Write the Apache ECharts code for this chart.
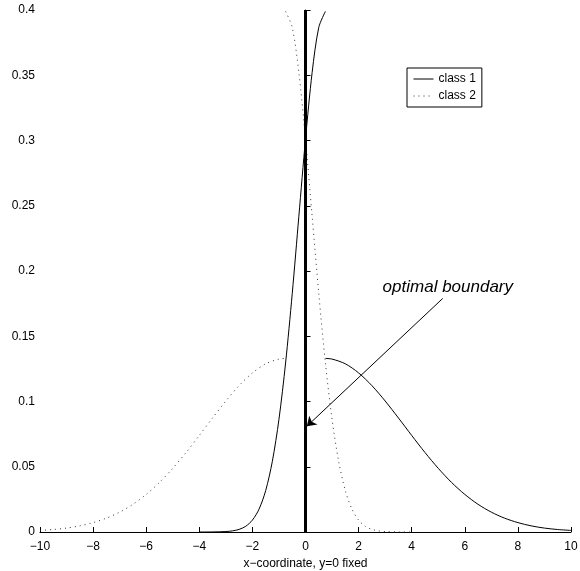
<!DOCTYPE html>
<html>
<head>
<meta charset="utf-8">
<script src="https://cdn.jsdelivr.net/npm/echarts@6/dist/echarts.min.js"></script>
<style>html,body{margin:0;padding:0;background:#fff;}#c{width:580px;height:571px;}</style>
</head>
<body>
<div id="c"></div>
<script>
// ---- data ----
const class1NarrowX = [-4, -3.5, -3, -2.75, -2.5, -2.25, -2, -1.75, -1.5, -1.25, -1, -0.75, -0.5, -0.25, 0, 0.25, 0.5, 0.75];
const class1NarrowY = [0.000005, 0.00005, 0.00035, 0.00087, 0.0020, 0.0044, 0.0091, 0.0175, 0.0317, 0.0540, 0.0863, 0.1295, 0.1826, 0.2420, 0.3011, 0.3521, 0.3867, 0.3989];
const class1WideX = [0.75, 1, 1.5, 2, 2.5, 3, 3.5, 4, 4.5, 5, 5.5, 6, 6.5, 7, 7.5, 8, 8.5, 9, 9.5, 10];
const class1WideY = [0.1330, 0.1325, 0.1289, 0.1219, 0.1122, 0.1004, 0.0874, 0.0740, 0.0609, 0.0488, 0.0380, 0.0288, 0.0212, 0.0152, 0.0106, 0.0072, 0.0047, 0.0030, 0.0019, 0.0012];
const class2NarrowX = [-0.75, -0.5, -0.25, 0, 0.25, 0.5, 0.75, 1, 1.25, 1.5, 1.75, 2, 2.25, 2.5, 2.75, 3, 3.5, 4];
const class2NarrowY = [0.3989, 0.3867, 0.3521, 0.3011, 0.2420, 0.1826, 0.1295, 0.0863, 0.0540, 0.0317, 0.0175, 0.0091, 0.0044, 0.0020, 0.00087, 0.00035, 0.00005, 0.000005];
const class2WideX = [-10, -9.5, -9, -8.5, -8, -7.5, -7, -6.5, -6, -5.5, -5, -4.5, -4, -3.5, -3, -2.5, -2, -1.5, -1, -0.75];
const class2WideY = [0.0012, 0.0019, 0.0030, 0.0047, 0.0072, 0.0106, 0.0152, 0.0212, 0.0288, 0.0380, 0.0488, 0.0609, 0.0740, 0.0874, 0.1004, 0.1122, 0.1219, 0.1289, 0.1325, 0.1330];
const boundaryX = [0, 0];
const boundaryY = [0, 0.4];
const arrowFrom = [5.17, 0.179];
const arrowTo = [0.05, 0.081];
const annotationText = 'optimal boundary';
const annotationAt = [5.36, 0.1877];
const xTicks = { min: -10, max: 10, interval: 2 };
const yTicks = { min: 0, max: 0.4, interval: 0.05 };
const seriesNames = ['class 1', 'class 2'];
const xAxisTitle = 'x\u2212coordinate, y=0 fixed';

function pairs(xs, ys) { return xs.map((x, i) => [x, ys[i]]); }

const FONT = 'Liberation Sans, Arial, Helvetica, sans-serif';
const solid = { color: '#000', width: 1, type: 'solid' };
const dotted = { color: '#333', width: 1, type: [1, 4] };

const chart = echarts.init(document.getElementById('c'), null, { renderer: 'canvas' });
chart.setOption({
  animation: false,
  backgroundColor: '#fff',
  grid: { left: 40, right: 9, top: 10, bottom: 39, containLabel: false, outerBoundsMode: 'none' },
  legend: {
    orient: 'vertical',
    left: 407, top: 68,
    data: seriesNames,
    backgroundColor: '#fff',
    borderColor: '#000', borderWidth: 1,
    padding: [5, 6, 5, 6],
    itemWidth: 20, itemHeight: 12, itemGap: 5,
    selectedMode: false,
    itemStyle: { opacity: 0 },
    lineStyle: { width: 1 },
    textStyle: { fontFamily: FONT, fontSize: 12, color: '#000' }
  },
  xAxis: {
    type: 'value', min: xTicks.min, max: xTicks.max, interval: xTicks.interval,
    name: xAxisTitle, nameLocation: 'middle', nameGap: 26,
    nameTextStyle: { fontFamily: FONT, fontSize: 12, color: '#000' },
    axisLine: { show: true, lineStyle: { color: '#000', width: 1 } },
    axisTick: { show: true, inside: true, length: 5, lineStyle: { color: '#000' } },
    axisLabel: { fontFamily: FONT, fontSize: 12, color: '#000', margin: 9,
      formatter: v => String(v).replace('-', '\u2212') },
    splitLine: { show: false }
  },
  yAxis: {
    type: 'value', min: yTicks.min, max: yTicks.max, interval: yTicks.interval,
    axisLine: { show: true, lineStyle: { color: '#000', width: 1 } },
    axisTick: { show: true, inside: true, length: 5, lineStyle: { color: '#000' } },
    axisLabel: { fontFamily: FONT, fontSize: 12, color: '#000', margin: 5 },
    splitLine: { show: false }
  },
  series: [
    { name: seriesNames[0], type: 'line', data: pairs(class1NarrowX, class1NarrowY), smooth: 0.3,
      showSymbol: false, symbol: 'none', lineStyle: solid, itemStyle: { color: '#000' }, z: 3 },
    { name: seriesNames[0], type: 'line', data: pairs(class1WideX, class1WideY), smooth: 0.3,
      showSymbol: false, symbol: 'none', lineStyle: solid, itemStyle: { color: '#000' }, z: 3 },
    { name: seriesNames[1], type: 'line', data: pairs(class2NarrowX, class2NarrowY), smooth: 0.3,
      showSymbol: false, symbol: 'none', lineStyle: dotted, itemStyle: { color: '#333' }, z: 3 },
    { name: seriesNames[1], type: 'line', data: pairs(class2WideX, class2WideY), smooth: 0.3,
      showSymbol: false, symbol: 'none', lineStyle: dotted, itemStyle: { color: '#333' }, z: 3 },
    { name: 'boundary', type: 'line', data: pairs(boundaryX, boundaryY),
      showSymbol: false, symbol: 'none', lineStyle: { color: '#000', width: 3 }, z: 4,
      markLine: {
        silent: true, animation: false,
        label: { show: false },
        lineStyle: { color: '#000', width: 1, type: 'solid' },
        data: [[{ coord: arrowFrom, symbol: 'none' }, { coord: arrowTo, symbol: 'arrow', symbolSize: 9 }]]
      },
      markPoint: {
        silent: true, animation: false,
        data: [{ coord: annotationAt, symbol: 'circle', symbolSize: 0,
          label: { show: true, position: 'inside', formatter: annotationText,
            fontFamily: FONT, fontSize: 17, fontStyle: 'italic', color: '#000' } }]
      }
    }
  ]
});
</script>
</body>
</html>
